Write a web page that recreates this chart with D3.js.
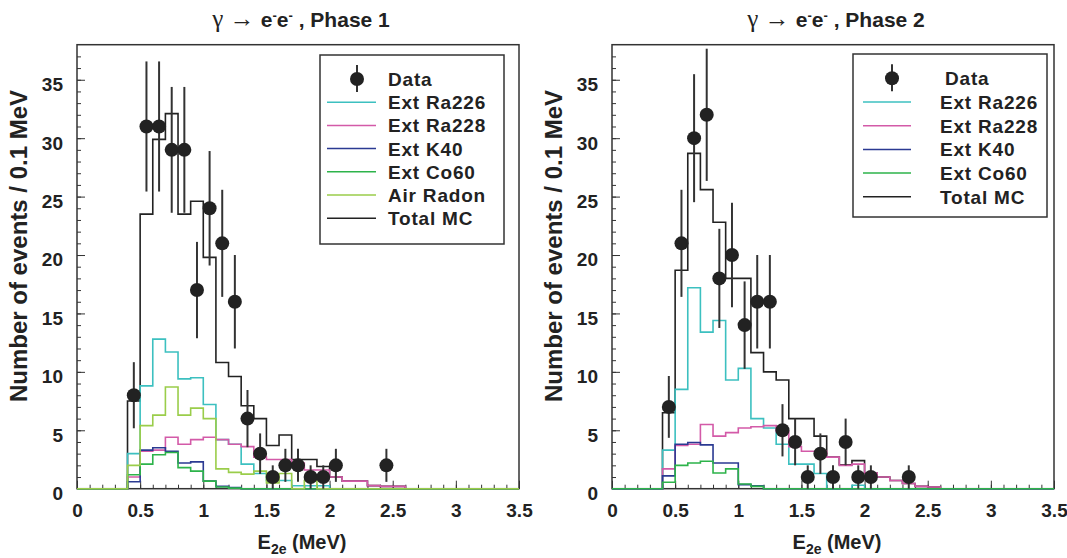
<!DOCTYPE html>
<html lang="en">
<head>
<meta charset="utf-8">
<title>gamma to e-e-, Phase 1 and Phase 2</title>
<script src="https://d3js.org/d3.v7.min.js"></script>
<style>
    body { margin: 0; background: #fff; }
    svg text { font-family: "Liberation Sans", Arial, Helvetica, sans-serif; font-weight: bold; fill: #222; }
    .tick text { font-size: 19px; }
    .tick line { stroke: #333; }
    .legend text { font-size: 19px; letter-spacing: 0.8px; }
</style>
</head>
<body>
<script>
// binning used by all MC histograms (content listed from binStart on)
var binStart = 0.4;
var binWidth = 0.1;
var nBins = 35;

var xTicks = [0, 0.5, 1, 1.5, 2, 2.5, 3, 3.5];
var xTickLabels = ["0", "0.5", "1", "1.5", "2", "2.5", "3", "3.5"];
var yTicks = [0, 5, 10, 15, 20, 25, 30, 35];

// ---- Phase 1 ----
var p1DataE = [0.45, 0.55, 0.65, 0.75, 0.85, 0.95, 1.05, 1.15, 1.25, 1.35, 1.45, 1.55, 1.65, 1.75, 1.85, 1.95, 2.05, 2.45];
var p1DataN = [8, 31, 31, 29, 29, 17, 24, 21, 16, 6, 3, 1, 2, 2, 1, 1, 2, 2];
var p1Ra226 = [3.0, 8.8, 12.8, 11.7, 9.4, 9.5, 7.2, 4.2, 3.8, 2.1, 1.3, 0.7, 0.7, 0.25, 0.25, 0.25];
var p1Ra228 = [1.0, 3.2, 3.3, 4.4, 3.8, 4.2, 4.4, 4.2, 3.8, 3.6, 2.7, 2.5, 2.5, 2.2, 1.6, 1.6, 1.0, 0.65, 0.65, 0.26, 0.2, 0.2];
var p1K40 = [0.6, 3.3, 3.5, 3.2, 2.2, 2.3, 0.65, 0.2, 0.1];
var p1Co60 = [1.2, 2.1, 2.9, 3.1, 1.8, 1.5, 0.65, 0.15, 0.05];
var p1AirRn = [2.0, 5.4, 6.3, 8.7, 6.3, 6.9, 6.0, 1.7, 1.4, 1.25, 1.5, 0.5, 1.3, 0, 0.7];
var p1Total = [7.5, 23.5, 29.9, 32.1, 23.5, 24.6, 19.8, 10.8, 9.6, 7.1, 6.0, 3.7, 4.6, 2.5, 2.5, 1.9, 1.0, 0.65, 0.65, 0.26, 0.2, 0.2];

// ---- Phase 2 ----
var p2DataE = [0.45, 0.55, 0.65, 0.75, 0.85, 0.95, 1.05, 1.15, 1.25, 1.35, 1.45, 1.55, 1.65, 1.75, 1.85, 1.95, 2.05, 2.35];
var p2DataN = [7, 21, 30, 32, 18, 20, 14, 16, 16, 5, 4, 1, 3, 1, 4, 1, 1, 1];
var p2Ra226 = [3.3, 8.5, 17.2, 13.4, 14.4, 9.3, 10.3, 6.0, 5.2, 3.8, 2.1, 2.1, 1.3, 0, 0, 0.3];
var p2Ra228 = [1.7, 3.7, 3.8, 5.5, 4.5, 4.8, 5.2, 5.3, 5.4, 4.9, 3.6, 3.2, 3.2, 2.7, 2.0, 2.1, 1.35, 1.0, 0.7, 0.45, 0.2, 0.15];
var p2K40 = [1.1, 3.8, 3.95, 3.75, 2.2, 2.2, 0.35, 0.25];
var p2Co60 = [0.55, 2.0, 2.2, 2.35, 1.35, 1.7, 0.4, 0.2];
var p2Total = [6.5, 18.7, 28.7, 25.6, 22.8, 18.0, 18.0, 11.65, 10.0, 9.3, 6.0, 6.0, 4.5, 2.7, 2.05, 2.4, 1.35, 1.0, 0.7, 0.45, 0.2, 0.15];

var col = {
    ra226: "#3cc0c0",
    ra228: "#d35aa8",
    k40: "#2b3a92",
    co60: "#2db34a",
    airRn: "#9acd4a",
    total: "#222"
};

var W = 1067, H = 558;
var plotW = 442, plotTop = 44.7, plotBottom = 488.7;
var plotH = plotBottom - plotTop;

var svg = d3.select("body").append("svg")
        .attr("width", W)
        .attr("height", H);

// pad the listed bin contents with empty bins over the full 0-3.5 range
function fullBins(vals) {
    var first = Math.round(binStart / binWidth);
    return d3.range(nBins).map(function (i) {
        var k = i - first;
        return (k >= 0 && k < vals.length) ? vals[k] : 0;
    });
}

function drawPanel(p) {
    var g = svg.append("g").attr("transform", "translate(" + p.left + "," + plotTop + ")");

    var x = d3.scaleLinear().domain([0, 3.5]).range([0, plotW]);
    var y = d3.scaleLinear().domain([0, 38]).range([plotH, 0]);

    // minor ticks
    g.append("g")
            .call(d3.axisLeft(y).tickValues(d3.range(0, 38)).tickSize(-4).tickFormat(""))
            .call(function (a) { a.select(".domain").remove(); });
    g.append("g")
            .attr("transform", "translate(0," + plotH + ")")
            .call(d3.axisBottom(x).tickValues(d3.range(0, 36).map(function (i) { return i / 10; }))
                    .tickSize(-4).tickFormat(""))
            .call(function (a) { a.select(".domain").remove(); });

    // major ticks + labels
    g.append("g")
            .call(d3.axisLeft(y).tickValues(yTicks).tickSize(-8).tickPadding(14).tickFormat(d3.format("d")))
            .call(function (a) {
                a.select(".domain").remove();
                a.selectAll("text").attr("dy", "0.57em");
            });
    g.append("g")
            .attr("transform", "translate(0," + plotH + ")")
            .call(d3.axisBottom(x).tickValues(xTicks).tickSize(-8).tickPadding(15)
                    .tickFormat(function (d, i) { return xTickLabels[i]; }))
            .call(function (a) { a.select(".domain").remove(); });

    // frame
    g.append("rect")
            .attr("width", plotW)
            .attr("height", plotH)
            .attr("fill", "none")
            .attr("stroke", "#333")
            .attr("stroke-width", 1.5);

    // histograms
    var line = d3.line()
            .x(function (d) { return x(d[0]); })
            .y(function (d) { return y(d[1]); })
            .curve(d3.curveStepAfter);

    p.hists.forEach(function (hs) {
        var pts = fullBins(hs.values).map(function (v, i) { return [i * binWidth, v]; });
        pts.push([nBins * binWidth, 0]);
        g.append("path")
                .attr("d", line(pts))
                .attr("fill", "none")
                .attr("stroke", hs.color)
                .attr("stroke-width", 1.6);
    });

    // data points with sqrt(N) errors
    var pts = g.append("g").selectAll("g")
            .data(p.dataE.map(function (e, i) { return { e: e, n: p.dataN[i] }; }))
            .enter()
            .append("g");
    pts.append("line")
            .attr("x1", function (d) { return x(d.e); })
            .attr("x2", function (d) { return x(d.e); })
            .attr("y1", function (d) { return y(d.n - Math.sqrt(d.n)); })
            .attr("y2", function (d) { return y(d.n + Math.sqrt(d.n)); })
            .attr("stroke", "#333")
            .attr("stroke-width", 2);
    pts.append("circle")
            .attr("cx", function (d) { return x(d.e); })
            .attr("cy", function (d) { return y(d.n); })
            .attr("r", 7)
            .attr("fill", "#222");

    // title
    var t = svg.append("text")
            .attr("x", p.left + plotW / 2 + 3)
            .attr("y", 27)
            .attr("text-anchor", "middle")
            .style("font-size", "21px");
    t.append("tspan").text("\u03b3 \u2192 ")
            .style("font-family", "'Liberation Serif', serif").style("font-weight", "normal")
            .style("font-size", "25px");
    t.append("tspan").text("e");
    t.append("tspan").text("-").attr("dy", -7).style("font-size", "13px");
    t.append("tspan").text("e").attr("dy", 7);
    t.append("tspan").text("-").attr("dy", -7).style("font-size", "13px");
    t.append("tspan").text(" , " + p.phase).attr("dy", 7);

    // axis titles
    var xt = svg.append("text")
            .attr("x", p.left + plotW / 2 + 4)
            .attr("y", 549)
            .attr("text-anchor", "middle")
            .style("font-size", "20px");
    xt.append("tspan").text("E");
    xt.append("tspan").text("2e").attr("dy", 5).style("font-size", "14px");
    xt.append("tspan").text(" (MeV)").attr("dy", -5);

    svg.append("text")
            .attr("transform", "translate(" + (p.left - 50) + ",246) rotate(-90)")
            .attr("text-anchor", "middle")
            .style("font-size", "24px")
            .text("Number of events / 0.1 MeV");

    // legend
    var lg = svg.append("g").attr("class", "legend");
    lg.append("rect")
            .attr("x", p.legend.x)
            .attr("y", p.legend.y)
            .attr("width", p.legend.w)
            .attr("height", p.legend.h)
            .attr("fill", "#fff")
            .attr("stroke", "#333")
            .attr("stroke-width", 1.5);

    var rows = lg.selectAll("g.row")
            .data(p.legendItems)
            .enter()
            .append("g")
            .attr("class", "row")
            .attr("transform", function (d, i) {
                return "translate(0," + (p.legend.row0 + i * p.legend.step) + ")";
            });
    rows.each(function (d) {
        var r = d3.select(this);
        if (d.color === null) {
            r.append("line")
                    .attr("x1", p.legend.mark).attr("x2", p.legend.mark)
                    .attr("y1", -14).attr("y2", 13)
                    .attr("stroke", "#333").attr("stroke-width", 2);
            r.append("circle")
                    .attr("cx", p.legend.mark).attr("cy", 0).attr("r", 7)
                    .attr("fill", "#222");
        } else {
            r.append("line")
                    .attr("x1", p.legend.l1).attr("x2", p.legend.l2)
                    .attr("y1", 0).attr("y2", 0)
                    .attr("stroke", d.color).attr("stroke-width", 1.5);
        }
        r.append("text")
                .attr("x", d.color === null ? p.legend.textData : p.legend.text)
                .attr("y", 7)
                .text(d.name);
    });
}

drawPanel({
    left: 77,
    phase: "Phase 1",
    dataE: p1DataE,
    dataN: p1DataN,
    hists: [
        { values: p1Total, color: col.total },
        { values: p1Ra226, color: col.ra226 },
        { values: p1Ra228, color: col.ra228 },
        { values: p1K40, color: col.k40 },
        { values: p1Co60, color: col.co60 },
        { values: p1AirRn, color: col.airRn }
    ],
    legend: { x: 320, y: 55, w: 184, h: 189, row0: 79, step: 23.2, mark: 357, l1: 327, l2: 376, text: 388, textData: 388 },
    legendItems: [
        { name: "Data", color: null },
        { name: "Ext Ra226", color: col.ra226 },
        { name: "Ext Ra228", color: col.ra228 },
        { name: "Ext K40", color: col.k40 },
        { name: "Ext Co60", color: col.co60 },
        { name: "Air Radon", color: col.airRn },
        { name: "Total MC", color: col.total }
    ]
});

drawPanel({
    left: 612,
    phase: "Phase 2",
    dataE: p2DataE,
    dataN: p2DataN,
    hists: [
        { values: p2Total, color: col.total },
        { values: p2Ra226, color: col.ra226 },
        { values: p2Ra228, color: col.ra228 },
        { values: p2K40, color: col.k40 },
        { values: p2Co60, color: col.co60 }
    ],
    legend: { x: 853, y: 54, w: 194, h: 163, row0: 78.3, step: 23.7, mark: 892, l1: 863, l2: 911, text: 940, textData: 945 },
    legendItems: [
        { name: "Data", color: null },
        { name: "Ext Ra226", color: col.ra226 },
        { name: "Ext Ra228", color: col.ra228 },
        { name: "Ext K40", color: col.k40 },
        { name: "Ext Co60", color: col.co60 },
        { name: "Total MC", color: col.total }
    ]
});
</script>
</body>
</html>
